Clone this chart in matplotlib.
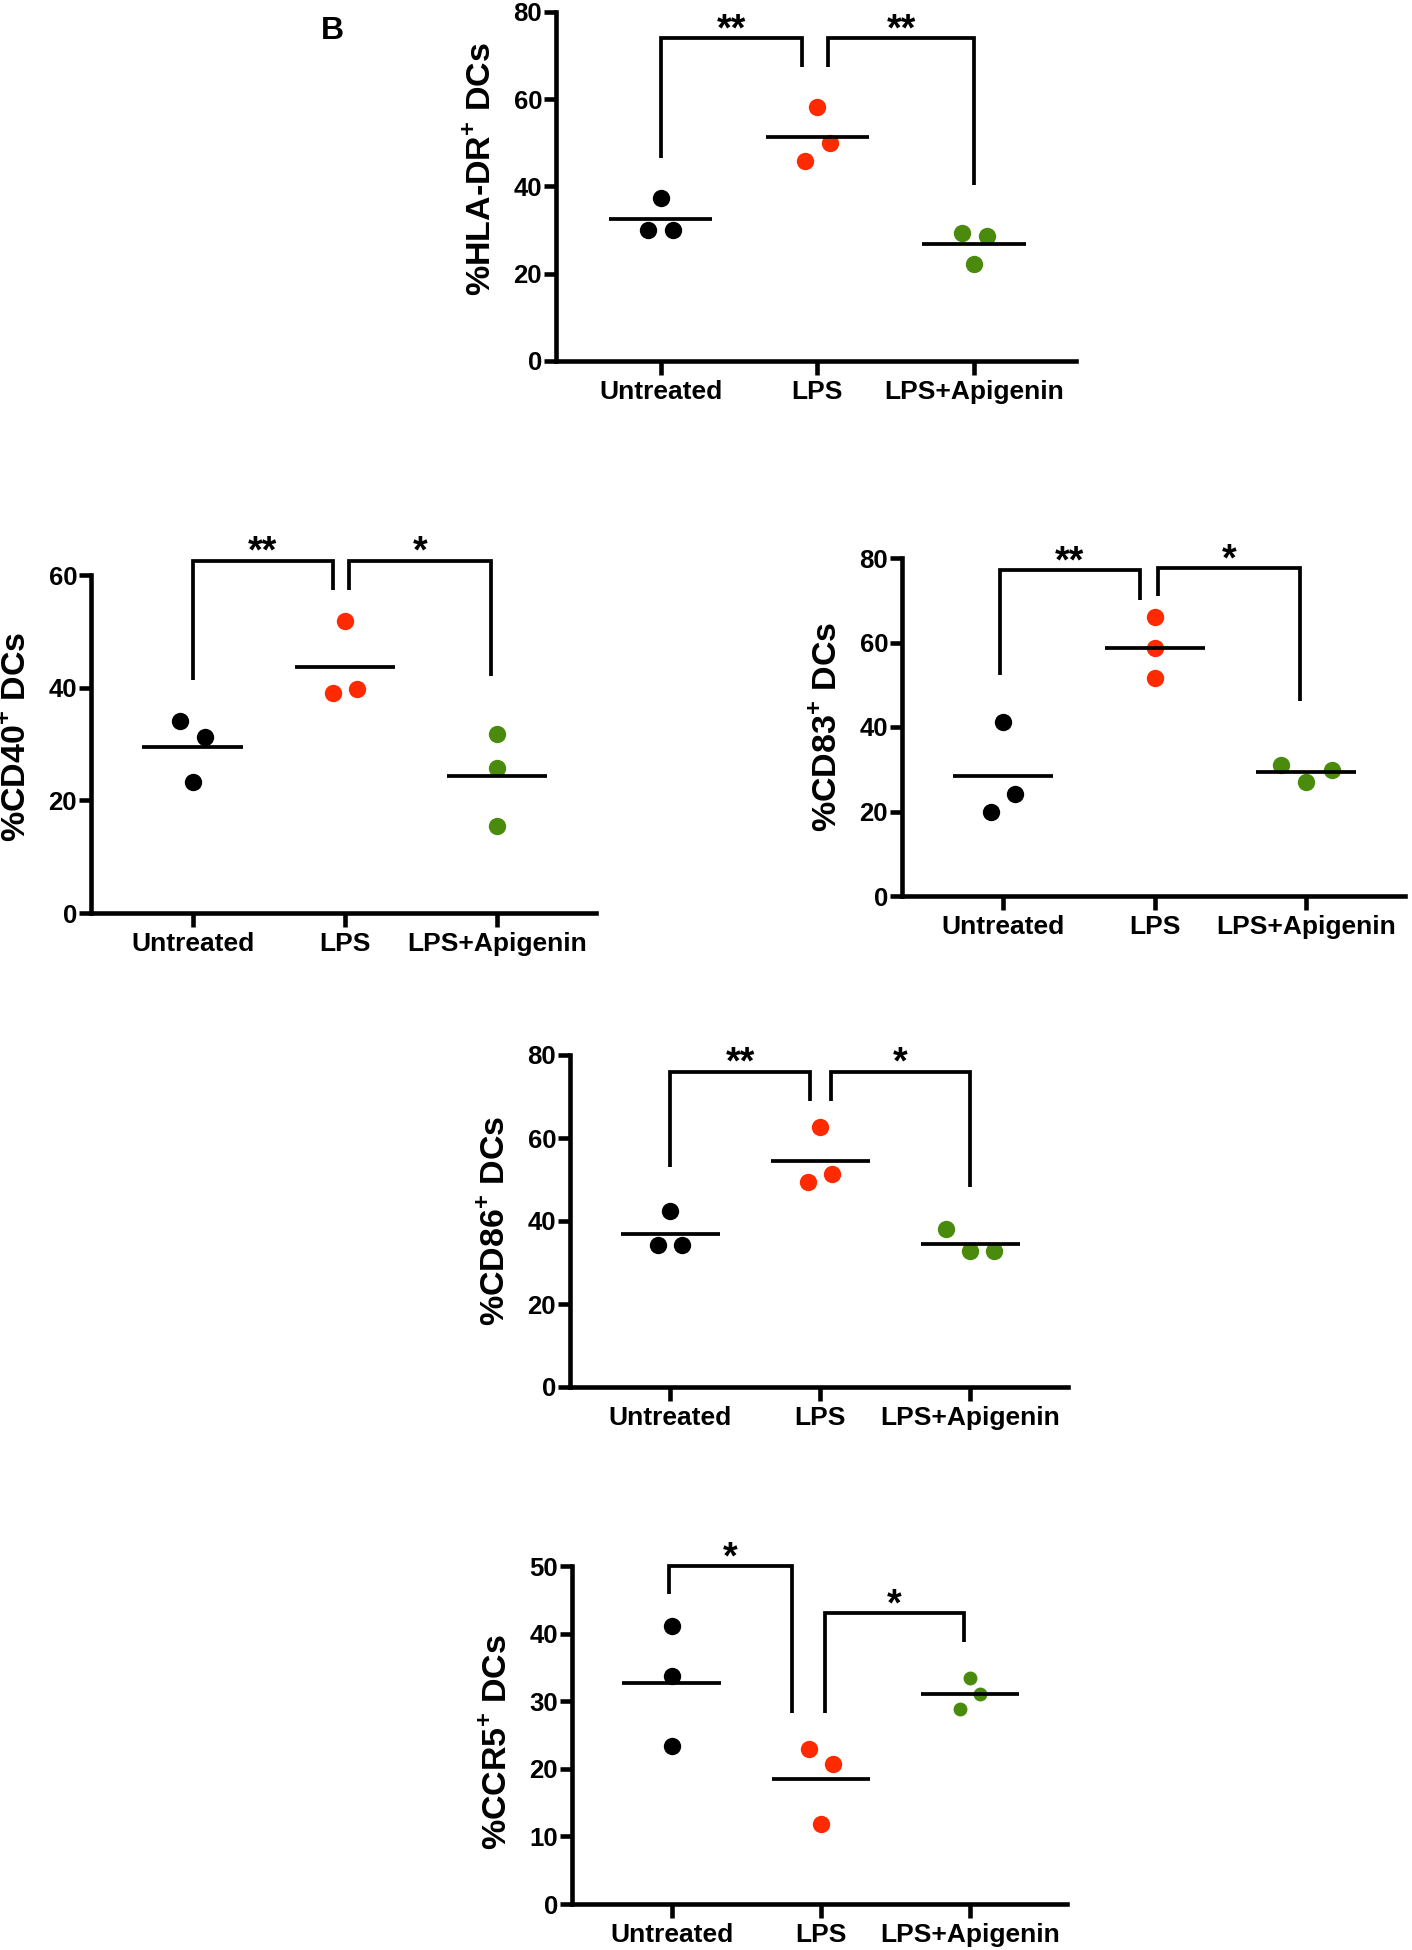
import numpy as np
import matplotlib
matplotlib.use('Agg')
import matplotlib.pyplot as plt

plt.rcParams['font.family'] = ['Liberation Sans', 'DejaVu Sans']
plt.rcParams['font.weight'] = 'bold'
plt.rcParams['mathtext.fontset'] = 'custom'
plt.rcParams['mathtext.rm'] = 'Liberation Sans:bold'
plt.rcParams['mathtext.bf'] = 'Liberation Sans:bold'

# ---------------- data ----------------
groups = ['Untreated', 'LPS', 'LPS+Apigenin']
colors = ['#000000', '#ff2a00', '#4a8a0c']

hla_untreated = [37.4, 29.9, 30.1]
hla_lps = [58.2, 50.0, 45.8]
hla_api = [29.3, 28.6, 22.2]

cd40_untreated = [34.0, 31.2, 23.3]
cd40_lps = [51.9, 39.1, 39.8]
cd40_api = [31.7, 25.7, 15.5]

cd83_untreated = [41.1, 24.1, 19.8]
cd83_lps = [66.0, 58.8, 51.6]
cd83_api = [31.1, 26.9, 29.9]

cd86_untreated = [42.3, 34.1, 34.1]
cd86_lps = [62.6, 51.3, 49.3]
cd86_api = [38.0, 32.7, 32.7]

ccr5_untreated = [41.1, 33.7, 23.4]
ccr5_lps = [22.9, 20.7, 11.9]
ccr5_api = [33.5, 31.1, 28.8]

# significance brackets: (x_left, x_right, y_top, y_left_end, y_right_end, label)
hla_sig = [(1.0, 1.9, 73.9, 46.4, 67.4, '**'), (2.07, 3.0, 73.9, 67.4, 40.4, '**')]
cd40_sig = [(1.0, 1.92, 62.5, 41.3, 57.3, '**'), (2.03, 2.96, 62.5, 57.3, 42.1, '*')]
cd83_sig = [(0.98, 1.9, 77.1, 52.2, 70.1, '**'), (2.02, 2.96, 77.6, 70.9, 46.2, '*')]
cd86_sig = [(1.0, 1.93, 76.0, 53.1, 68.9, '**'), (2.07, 3.0, 76.0, 68.9, 48.3, '*')]
ccr5_sig = [(0.98, 1.81, 50.0, 45.8, 28.2, '*'), (2.03, 2.96, 43.0, 28.2, 38.8, '*')]

# ---------------- layout ----------------
W, H = 1412, 1950
fig = plt.figure(figsize=(W / 100, H / 100), dpi=100)

# horizontal scatter of the dots inside each group (layout only)
jit_a = [[0, -0.08, 0.08], [0, 0.08, -0.08], [-0.08, 0.08, 0]]
jit_b = [[-0.08, 0.08, 0], [0, -0.08, 0.08], [0, 0, 0]]
jit_c = [[0, 0.08, -0.08], [0, 0, 0], [-0.17, 0, 0.17]]
jit_d = [[0, -0.08, 0.08], [0, 0.08, -0.08], [-0.16, 0, 0.16]]
jit_e = [[0, 0, 0], [-0.08, 0.08, 0], [0, 0.07, -0.07]]

panels = [
    # (left, right, top, bottom) px, ymax, yticks, ylabel, label y pos, values, jitter, sig, marker sizes
    ((556, 1076, 11.7, 361), 80, [0, 20, 40, 60, 80], r'%HLA-DR$^{+}$ DCs', 0.55,
     [hla_untreated, hla_lps, hla_api], jit_a, hla_sig, [12.5, 12.5, 12.5]),
    ((91, 596, 575, 913), 60, [0, 20, 40, 60], r'%CD40$^{+}$ DCs', 0.52,
     [cd40_untreated, cd40_lps, cd40_api], jit_b, cd40_sig, [12.5, 12.5, 12.5]),
    ((902, 1405, 558, 896), 80, [0, 20, 40, 60, 80], r'%CD83$^{+}$ DCs', 0.5,
     [cd83_untreated, cd83_lps, cd83_api], jit_c, cd83_sig, [12.5, 12.5, 12.5]),
    ((570, 1068, 1055, 1387), 80, [0, 20, 40, 60, 80], r'%CD86$^{+}$ DCs', 0.5,
     [cd86_untreated, cd86_lps, cd86_api], jit_d, cd86_sig, [12.5, 12.5, 12.5]),
    ((572, 1067, 1566, 1904), 50, [0, 10, 20, 30, 40, 50], r'%CCR5$^{+}$ DCs', 0.48,
     [ccr5_untreated, ccr5_lps, ccr5_api], jit_e, ccr5_sig, [12.5, 12.5, 10]),
]

lw = 3.3

for (l, r, t, b), ymax, yticks, ylabel, ly, vals, jit, sig, msz in panels:
    ax = fig.add_axes([l / W, 1 - b / H, (r - l) / W, (b - t) / H])
    ax.set_xlim(0.333, 3.65)
    ax.set_ylim(0, ymax)
    ax.spines['top'].set_visible(False)
    ax.spines['right'].set_visible(False)
    for s in ['left', 'bottom']:
        ax.spines[s].set_linewidth(lw)
        ax.spines[s].set_capstyle('projecting')

    for i, v in enumerate(vals):
        x = i + 1 + np.array(jit[i])
        ax.plot(x, v, linestyle='none', marker='o', markersize=msz[i],
                color=colors[i], markeredgewidth=0, clip_on=False, zorder=3)
        m = np.mean(v)
        ax.plot([i + 1 - 0.33, i + 1 + 0.33], [m, m], color='black', lw=2.7,
                solid_capstyle='butt', zorder=4)

    for x1, x2, yt, y1, y2, lab in sig:
        ax.plot([x1, x1, x2, x2], [y1, yt, yt, y2], color='black', lw=2.7,
                solid_joinstyle='miter', solid_capstyle='butt', clip_on=False)
        ax.annotate(lab, xy=((x1 + x2) / 2, yt), xytext=(0, -2),
                    textcoords='offset pixels', ha='center', va='baseline',
                    fontsize=27, fontweight='bold', annotation_clip=False)

    ax.set_xticks([1, 2, 3])
    ax.set_xticklabels(groups, fontsize=19, fontweight='bold')
    ax.set_yticks(yticks)
    ax.set_yticklabels([str(y) for y in yticks], fontsize=18.5, fontweight='bold')
    ax.tick_params(axis='x', direction='out', length=10, width=lw, pad=4)
    ax.tick_params(axis='y', direction='out', length=9, width=lw, pad=1)

    ax.set_ylabel(ylabel, fontsize=24.5, fontweight='bold', va='center')
    ax.yaxis.set_label_coords(-74 / (r - l), ly)

fig.text(332 / W, 1 - 31 / H, 'B', fontsize=23, fontweight='bold',
         ha='center', va='center')

fig.savefig('out.png', dpi=100, facecolor='white')
